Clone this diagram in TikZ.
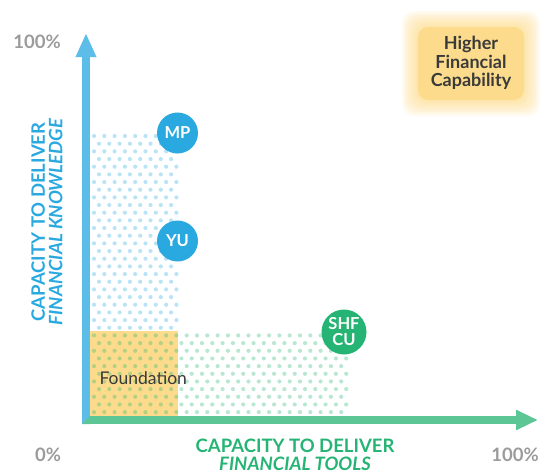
\documentclass[tikz,border=0pt]{standalone}
\usepackage{fontspec}
\setmainfont{Lato}
\usetikzlibrary{arrows.meta}
\definecolor{axisblue}{RGB}{92,190,232}
\definecolor{capblue}{RGB}{41,169,224}
\definecolor{axisgreen}{RGB}{92,198,148}
\definecolor{capgreen}{RGB}{37,180,115}
\definecolor{fndyellow}{RGB}{252,220,140}
\definecolor{glowyellow}{RGB}{252,212,118}
\definecolor{darktext}{RGB}{58,58,58}
\definecolor{pctgray}{RGB}{155,155,155}
\tikzset{
  pct/.style={text=pctgray,font=\bfseries\fontsize{18.5}{20}\selectfont},
  org/.style={circle,minimum size=41pt,inner sep=0pt,text=white,align=center,
    font=\bfseries\fontsize{16.5}{16}\selectfont},
  axistitle/.style={align=center,font=\bfseries\fontsize{18.5}{17.5}\selectfont},
  axisline/.style={line width=8pt},
}
\begin{document}
\begin{tikzpicture}[x=1pt,y=-1pt]
\useasboundingbox (0,0) rectangle (542,475);
% higher capability box with glow
\foreach \k in {16,14,...,2}
  \fill[glowyellow,opacity=0.1,rounded corners=12] (418-\k,27-\k) rectangle (524+\k,100+\k);
\fill[fndyellow,rounded corners=10] (418,27) rectangle (524,100);
\node[align=center,text=darktext,font=\bfseries\fontsize{18}{18.5}\selectfont] (higher) at (471,63) {Higher\\Financial\\Capability};
% foundation
\fill[fndyellow] (89,331) rectangle (178,420);
% dotted regions
\foreach \i in {0,...,36}{
  \pgfmathsetmacro\yy{136+7.67*\i}
  \pgfmathsetmacro\xo{94+5*mod(\i,2)}
  \ifnum\i<26 \def\xmax{179}\def\dotc{capblue}\else\def\xmax{347}\def\dotc{capgreen}\fi
  \foreach \j in {0,...,24}{
    \pgfmathsetmacro\xx{\xo+10.3*\j}
    \ifdim\xx pt<\xmax pt \fill[\dotc,opacity=0.32] (\xx,\yy) circle (2.1); \fi
  }
}
\node[anchor=west,text=darktext,font=\fontsize{17.5}{18}\selectfont] (fnd) at (96,378) {Foundation};
% axes
\draw[axisline,axisgreen,-{Triangle[length=22pt,width=19pt]}] (82,420)--(538,420);
\draw[axisline,axisblue,-{Triangle[length=24pt,width=19pt]}] (86,424)--(86,33);
\fill[axisgreen] (82,424)--(90,416)--(90,424)--cycle;
% organisations
\node[org,fill=capblue] (mp) at (177.5,133) {MP};
\node[org,fill=capblue] (yu) at (177.5,241) {YU};
\node[org,fill=capgreen,minimum size=45pt] (shf) at (344,332) {SHF\\CU};
% labels
\node[pct] (ytop) at (37,42) {100\%};
\node[pct] (zero) at (48,455) {0\%};
\node[pct] (xtop) at (515,455) {100\%};
\node[axistitle,text=capblue,rotate=90] (ytitle) at (47,222) {CAPACITY TO DELIVER\\{\itshape FINANCIAL KNOWLEDGE}};
\node[axistitle,text=capgreen] (xtitle) at (295,455) {CAPACITY TO DELIVER\\{\itshape FINANCIAL TOOLS}};
\end{tikzpicture}
\end{document}
